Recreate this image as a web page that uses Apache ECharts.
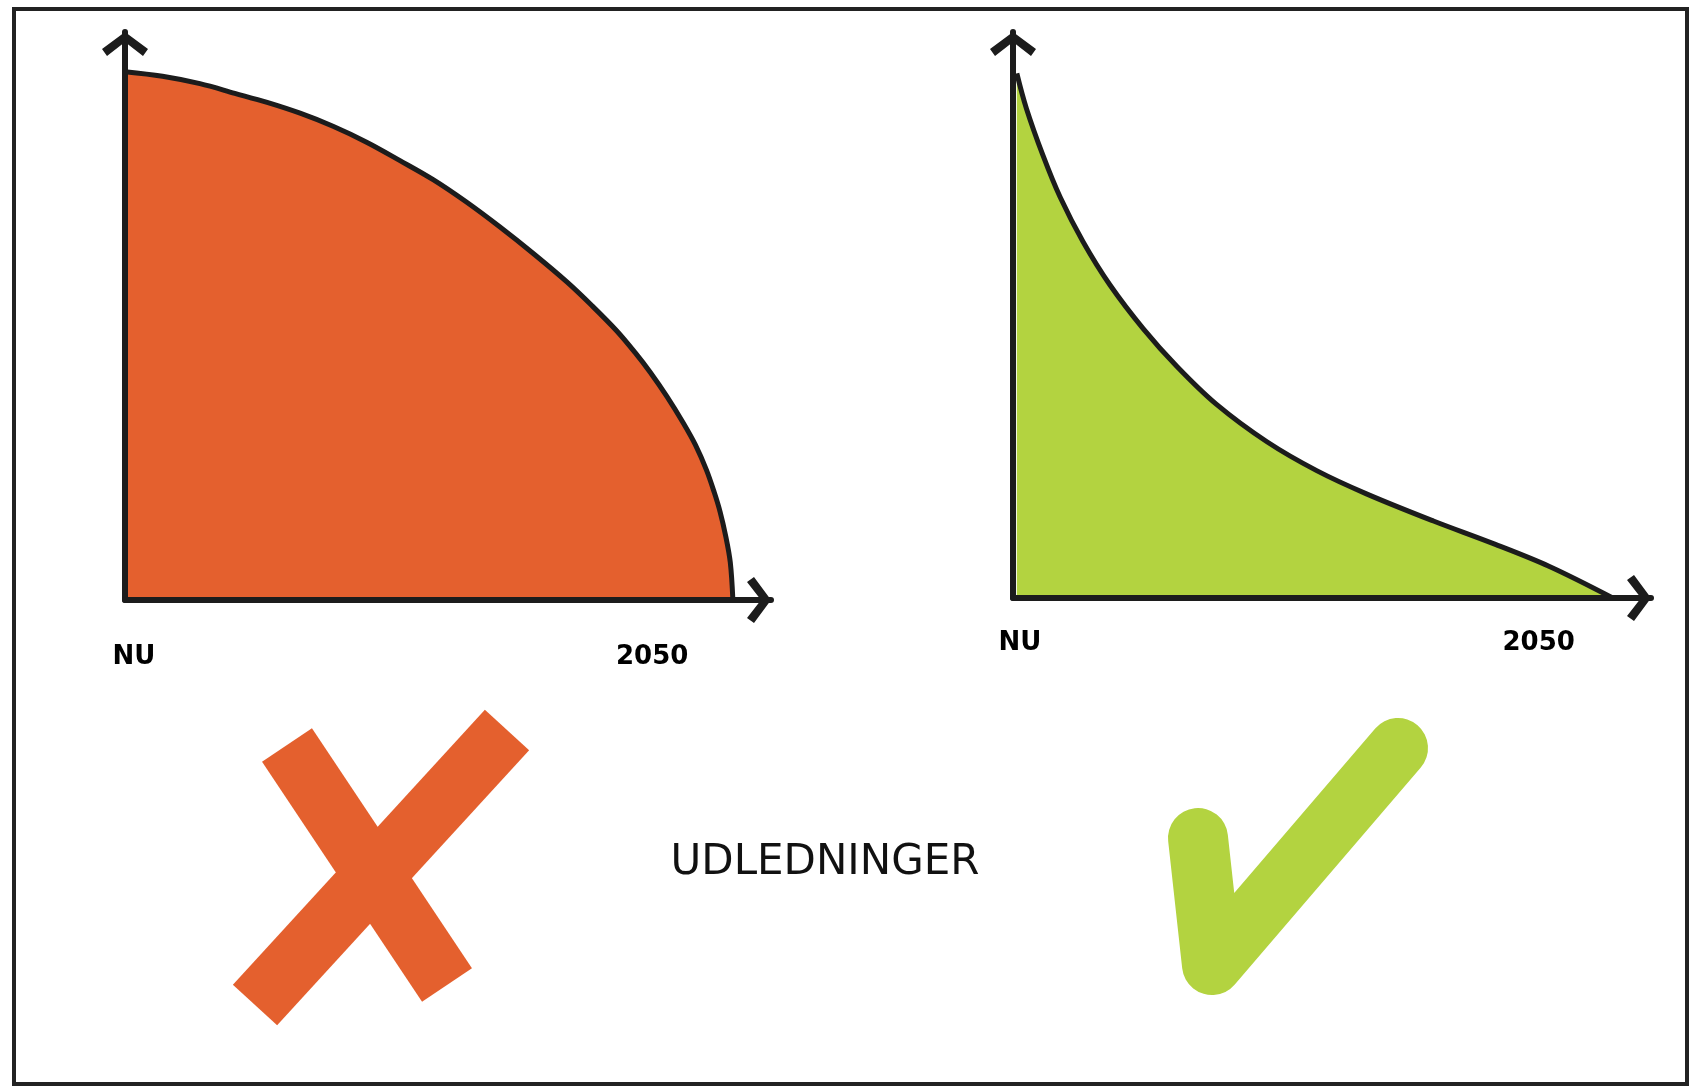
<!DOCTYPE html>
<html>
<head>
<meta charset="utf-8">
<script src="https://cdn.jsdelivr.net/npm/echarts@6/dist/echarts.min.js"></script>
<style>
html,body{margin:0;padding:0;background:#fff;}
#chart{width:1690px;height:1090px;}
</style>
</head>
<body>
<div id="chart"></div>
<script>
// ---- data (x in % of axis length, y in % of axis height) ----
const redX   = [0, 5.8, 11.6, 17.0, 22.0, 27.1, 32.2, 37.4, 42.5, 47.7, 52.8, 58.0, 63.2, 68.4, 72.3, 76.1, 79.0, 81.3, 83.9, 86.4, 88.3, 90.0, 91.2, 92.1, 93.0, 93.7, 94.1];
const redY   = [93.0, 92.2, 90.9, 89.2, 87.6, 85.7, 83.4, 80.6, 77.4, 74.0, 70.1, 65.7, 61.0, 56.0, 51.8, 47.4, 43.5, 40.1, 35.8, 31.2, 27.3, 22.9, 19.0, 15.6, 11.2, 6.6, 0];
const greenX = [0.6, 2.1, 4.7, 7.4, 11.0, 15.2, 20.4, 25.7, 31.9, 39.8, 47.6, 55.4, 65.9, 75.3, 84.0, 94.0];
const greenY = [92.7, 86.5, 78.2, 70.8, 62.9, 55.3, 47.6, 40.9, 34.2, 27.6, 22.5, 18.4, 13.6, 9.6, 5.6, 0];
const tickLabels = ['NU', '2050'];
const leftTickValues = [1.4, 81.6];
const rightTickValues = [1.1, 82.4];
const centerText = 'UDLEDNINGER';

const INK = '#1c1c1c';
const RED = '#E4602E';
const GREEN = '#B3D340';
const chevron = 'path://M23,0 L46,17 L41,24 L23,10 L5,24 L0,17 Z';

function pairs(xs, ys) { return xs.map((x, i) => [x, ys[i]]); }
function labelFor(values) {
  return function (v) {
    let best = 0, d = Infinity;
    values.forEach((t, i) => { const dd = Math.abs(t - v); if (dd < d) { d = dd; best = i; } });
    return tickLabels[best];
  };
}
function xAxisCfg(gi, values, margin) {
  return {
    type: 'value', gridIndex: gi, min: 0, max: 100, z: 5,
    splitLine: { show: false }, axisTick: { show: false },
    axisLine: { show: true, lineStyle: { color: INK, width: 6 },
      symbol: ['none', chevron], symbolSize: [46, 26], symbolOffset: [0, -12] },
    axisLabel: { show: true, customValues: values, formatter: labelFor(values),
      margin: margin, verticalAlign: 'middle', color: '#000',
      fontFamily: 'DejaVu Sans', fontWeight: 'bold', fontSize: 26 }
  };
}
function yAxisCfg(gi) {
  return {
    type: 'value', gridIndex: gi, min: 0, max: 100, z: 5,
    splitLine: { show: false }, axisTick: { show: false }, axisLabel: { show: false },
    axisLine: { show: true, lineStyle: { color: INK, width: 6 },
      symbol: ['none', chevron], symbolSize: [46, 26], symbolOffset: [0, -12] }
  };
}

const chart = echarts.init(document.getElementById('chart'));
chart.setOption({
  backgroundColor: '#fff',
  animation: false,
  grid: [
    { left: 125, top: 32, width: 646, height: 568 },
    { left: 1013, top: 32, width: 638, height: 566 }
  ],
  xAxis: [xAxisCfg(0, leftTickValues, 57), xAxisCfg(1, rightTickValues, 45)],
  yAxis: [yAxisCfg(0), yAxisCfg(1)],
  series: [
    { type: 'line', xAxisIndex: 0, yAxisIndex: 0, data: pairs(redX, redY),
      smooth: 0.35, showSymbol: false, clip: false,
      lineStyle: { color: INK, width: 5, join: 'round' }, areaStyle: { color: RED, opacity: 1 } },
    { type: 'line', xAxisIndex: 1, yAxisIndex: 1, data: pairs(greenX, greenY),
      smooth: 0.35, showSymbol: false, clip: false,
      lineStyle: { color: INK, width: 5, join: 'round' }, areaStyle: { color: GREEN, opacity: 1 } }
  ],
  graphic: [
    { type: 'rect', shape: { x: 14, y: 9, width: 1673, height: 1075 },
      style: { fill: 'none', stroke: '#222', lineWidth: 4 }, z: 10 },
    { type: 'text', x: 825, y: 863,
      style: { text: centerText, fill: '#111', font: '42px "DejaVu Sans"',
        textAlign: 'center', textVerticalAlign: 'middle' } },
    // cross
    { type: 'line', shape: { x1: 287, y1: 745, x2: 447, y2: 985 },
      style: { stroke: RED, lineWidth: 60, lineCap: 'butt' } },
    { type: 'line', shape: { x1: 255, y1: 1005, x2: 507, y2: 730 },
      style: { stroke: RED, lineWidth: 60, lineCap: 'butt' } },
    // check
    { type: 'polyline', shape: { points: [[1198, 838], [1212, 965], [1398, 748]] },
      style: { stroke: GREEN, lineWidth: 60, lineJoin: 'round', lineCap: 'round', fill: 'none' } }
  ]
});
</script>
</body>
</html>
